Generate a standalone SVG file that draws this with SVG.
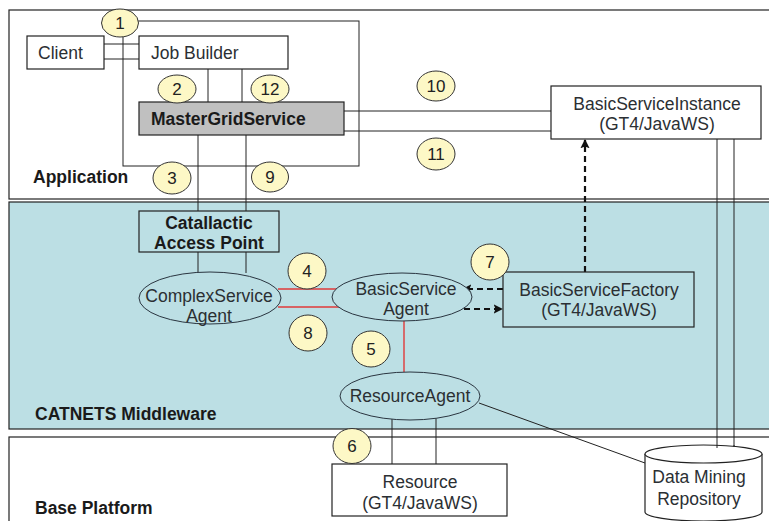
<svg xmlns="http://www.w3.org/2000/svg" width="769" height="521" viewBox="0 0 769 521">
  <defs>
    <style>
      .layer { stroke: #222; stroke-width: 1.2; }
      .box { fill: #ffffff; stroke: #222; stroke-width: 1.2; }
      .boxb { fill: #bcdfe4; stroke: #222; stroke-width: 1.2; }
      .agent { fill: #bcdfe4; stroke: #2a3540; stroke-width: 1; }
      .step { fill: #fdf8c6; stroke: #333; stroke-width: 1; }
      .ln { fill: none; stroke: #222; stroke-width: 1; }
      .red { fill: none; stroke: #e03a3a; stroke-width: 1.4; }
      .dash { fill: none; stroke: #111; stroke-width: 2.2; stroke-dasharray: 6 4; }
      text { font-family: "Liberation Sans", Arial, sans-serif; font-size: 17.5px; fill: #2b2f33; }
      .c { text-anchor: middle; }
      .bold { font-weight: bold; fill: #1a1a1a; }
      .num { font-size: 17px; text-anchor: middle; fill: #222; }
    </style>
    <marker id="ah" viewBox="0 0 10 10" refX="9" refY="5" markerWidth="4.2" markerHeight="4.2" orient="auto" markerUnits="strokeWidth">
      <path d="M0,0 L10,5 L0,10 L2,5 Z" fill="#111"/>
    </marker>
  </defs>

  <!-- layer bands -->
  <g id="layers">
    <rect class="layer" x="9" y="10" width="800" height="189" fill="#ffffff"/>
    <rect class="layer" x="9" y="202" width="800" height="227" fill="#bcdfe4"/>
    <rect class="layer" x="9" y="437" width="800" height="110" fill="#ffffff"/>
    <text class="bold" x="33" y="183">Application</text>
    <text class="bold" x="35" y="420">CATNETS Middleware</text>
    <text class="bold" x="35" y="514">Base Platform</text>
  </g>

  <!-- connectors -->
  <g id="connectors">
    <!-- loop from step 1 around the application -->
    <rect class="ln" x="123" y="21" width="236" height="145"/>
    <!-- Client to Job Builder -->
    <line class="ln" x1="104" y1="44" x2="139" y2="44"/>
    <line class="ln" x1="104" y1="59" x2="139" y2="59"/>
    <!-- Job Builder to MasterGridService -->
    <line class="ln" x1="208" y1="69" x2="208" y2="102"/>
    <line class="ln" x1="242" y1="69" x2="242" y2="102"/>
    <!-- MasterGridService to Catallactic Access Point -->
    <line class="ln" x1="198" y1="135" x2="198" y2="211"/>
    <line class="ln" x1="246" y1="135" x2="246" y2="211"/>
    <!-- Access Point to ComplexService Agent -->
    <line class="ln" x1="198" y1="252" x2="198" y2="272"/>
    <line class="ln" x1="246" y1="252" x2="246" y2="273"/>
    <!-- MasterGridService to BasicServiceInstance -->
    <line class="ln" x1="344" y1="111" x2="551" y2="111"/>
    <line class="ln" x1="344" y1="131" x2="551" y2="131"/>
    <!-- BasicServiceInstance to Data Mining Repository -->
    <line class="ln" x1="717" y1="139" x2="717" y2="448"/>
    <line class="ln" x1="734" y1="139" x2="734" y2="447"/>
    <!-- agent negotiation -->
    <line class="red" x1="278" y1="289" x2="340" y2="289"/>
    <line class="red" x1="278" y1="307" x2="340" y2="307"/>
    <line class="red" x1="404" y1="321" x2="404" y2="372"/>
    <!-- ResourceAgent to Resource -->
    <line class="ln" x1="392" y1="418" x2="392" y2="464"/>
    <line class="ln" x1="436" y1="418" x2="436" y2="464"/>
    <!-- ResourceAgent to Data Mining Repository -->
    <line class="ln" x1="479" y1="403" x2="645" y2="463"/>
    <!-- factory interactions -->
    <line class="dash" x1="503" y1="289" x2="463" y2="289" marker-end="url(#ah)"/>
    <line class="dash" x1="464" y1="309" x2="502" y2="309" marker-end="url(#ah)"/>
    <line class="dash" x1="585" y1="272" x2="585" y2="140" marker-end="url(#ah)"/>
  </g>

  <g id="client">
    <rect class="box" x="27" y="36" width="77" height="33"/>
    <text x="38" y="58.5">Client</text>
  </g>

  <g id="job-builder">
    <rect class="box" x="139" y="36" width="149" height="33"/>
    <text x="151" y="58.5">Job Builder</text>
  </g>

  <g id="master-grid-service">
    <rect x="139" y="102" width="205" height="33" fill="#c0c0c0" stroke="#222" stroke-width="1.2"/>
    <text class="bold" x="151" y="125">MasterGridService</text>
  </g>

  <g id="basic-service-instance">
    <rect class="box" x="551" y="86" width="210" height="53"/>
    <text class="c" x="657" y="110">BasicServiceInstance</text>
    <text class="c" x="657" y="130">(GT4/JavaWS)</text>
  </g>

  <g id="catallactic-access-point">
    <rect class="boxb" x="139" y="211" width="140" height="41"/>
    <text class="bold c" x="209" y="229">Catallactic</text>
    <text class="bold c" x="209" y="249">Access Point</text>
  </g>

  <g id="complex-service-agent">
    <ellipse class="agent" cx="210" cy="298" rx="71" ry="26"/>
    <text class="c" x="209" y="302">ComplexService</text>
    <text class="c" x="209" y="322">Agent</text>
  </g>

  <g id="basic-service-agent">
    <ellipse class="agent" cx="402" cy="297" rx="70" ry="24"/>
    <text class="c" x="406" y="295">BasicService</text>
    <text class="c" x="406" y="315">Agent</text>
  </g>

  <g id="basic-service-factory">
    <rect class="boxb" x="503" y="272" width="191" height="55"/>
    <text class="c" x="599" y="296">BasicServiceFactory</text>
    <text class="c" x="599" y="316">(GT4/JavaWS)</text>
  </g>

  <g id="resource-agent">
    <ellipse class="agent" cx="410" cy="396" rx="70" ry="24"/>
    <text class="c" x="410" y="402">ResourceAgent</text>
  </g>

  <g id="resource">
    <rect class="box" x="332" y="464" width="175" height="52"/>
    <text class="c" x="420" y="488">Resource</text>
    <text class="c" x="420" y="509">(GT4/JavaWS)</text>
  </g>

  <g id="data-mining-repository">
    <path d="M645,454 L645,512 A58.5,9 0 0 0 762,512 L762,454" fill="#ffffff" stroke="#222" stroke-width="1.2"/>
    <ellipse cx="703.5" cy="454" rx="58.5" ry="9" fill="#ffffff" stroke="#222" stroke-width="1.2"/>
    <line class="ln" x1="717" y1="445" x2="717" y2="448"/>
    <line class="ln" x1="734" y1="445" x2="734" y2="447"/>
    <text class="c" x="699" y="483">Data Mining</text>
    <text class="c" x="699" y="505">Repository</text>
  </g>

  <!-- numbered steps -->
  <g id="step-1"><ellipse class="step" cx="120" cy="23" rx="18.5" ry="14"/><text class="num" x="120" y="29">1</text></g>
  <g id="step-2"><ellipse class="step" cx="177" cy="89" rx="19" ry="14"/><text class="num" x="177" y="95">2</text></g>
  <g id="step-12"><ellipse class="step" cx="270" cy="89" rx="19" ry="14"/><text class="num" x="270" y="95">12</text></g>
  <g id="step-3"><ellipse class="step" cx="172" cy="178" rx="19" ry="16"/><text class="num" x="172" y="184">3</text></g>
  <g id="step-9"><ellipse class="step" cx="270" cy="177" rx="18.5" ry="15"/><text class="num" x="270" y="183">9</text></g>
  <g id="step-10"><ellipse class="step" cx="436" cy="86" rx="19" ry="15"/><text class="num" x="436" y="92">10</text></g>
  <g id="step-11"><ellipse class="step" cx="436" cy="154" rx="19" ry="16"/><text class="num" x="436" y="160">11</text></g>
  <g id="step-4"><ellipse class="step" cx="307" cy="271" rx="19" ry="18"/><text class="num" x="307" y="277">4</text></g>
  <g id="step-8"><ellipse class="step" cx="308" cy="333" rx="19" ry="18"/><text class="num" x="308" y="339">8</text></g>
  <g id="step-5"><ellipse class="step" cx="371" cy="349" rx="19" ry="18"/><text class="num" x="371" y="355">5</text></g>
  <g id="step-7"><ellipse class="step" cx="490" cy="262" rx="19" ry="18"/><text class="num" x="490" y="268">7</text></g>
  <g id="step-6"><ellipse class="step" cx="352" cy="446" rx="19" ry="17.5"/><text class="num" x="352" y="452">6</text></g>
</svg>
